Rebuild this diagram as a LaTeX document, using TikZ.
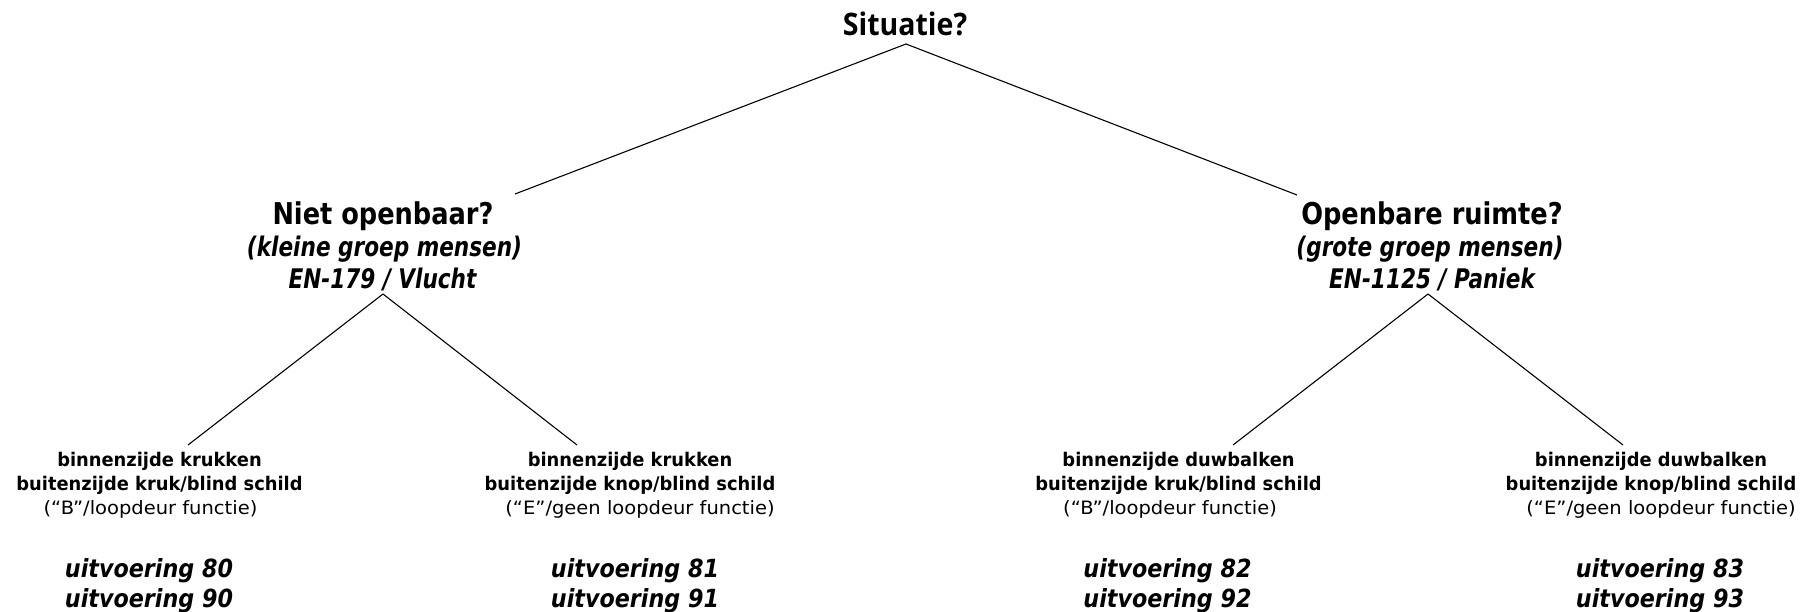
\documentclass[tikz,border=0pt]{standalone}
\usepackage{fontspec}
\setmainfont{DejaVu Sans}
\newfontfamily\fTitle[FakeStretch=0.92]{Open Sans}
\newfontfamily\fMid[FakeStretch=0.855]{DejaVu Sans}
\newfontfamily\fMidIt[FakeStretch=0.8]{DejaVu Sans}
\newfontfamily\fLeaf[FakeStretch=0.95]{DejaVu Sans}
\newfontfamily\fLeafR[FakeStretch=1.06]{DejaVu Sans}
\newfontfamily\fUitv[FakeStretch=0.89]{DejaVu Sans}
\begin{document}
\begin{tikzpicture}[x=1pt,y=-1pt,
  txt/.style={inner sep=0pt,outer sep=0pt,anchor=base},
  ttl/.style={txt,font=\fTitle\fontsize{31}{31}\selectfont\bfseries},
  midb/.style={txt,font=\fMid\fontsize{30}{30}\selectfont\bfseries},
  midi/.style={txt,font=\fMidIt\fontsize{27}{27}\selectfont\bfseries\itshape},
  leafb/.style={txt,font=\fLeaf\fontsize{18.8}{18.8}\selectfont\bfseries},
  leafr/.style={txt,font=\fLeafR\fontsize{18.4}{18.4}\selectfont},
  uitv/.style={txt,font=\fUitv\fontsize{25}{25}\selectfont\bfseries\itshape},
  conn/.style={draw=black,line width=1.1pt}]
\useasboundingbox (0,0) rectangle (1803,612);
% title
\node[ttl] (root) at (905,36) {Situatie?};
% left mid
\node[midb] (lm1) at (383,225) {Niet openbaar?};
\node[midi] (lm2) at (384.5,257) {(kleine groep mensen)};
\node[midi] (lm3) at (382.5,288) {EN-179 / Vlucht};
% right mid
\node[midb] (rm1) at (1432,225) {Openbare ruimte?};
\node[midi] (rm2) at (1430,257) {(grote groep mensen)};
\node[midi] (rm3) at (1432,288) {EN-1125 / Paniek};
% leaf 1
\node[leafb] (a1) at (159.5,466) {binnenzijde krukken};
\node[leafb] (a2) at (159.5,490) {buitenzijde kruk/blind schild};
\node[leafr] (a3) at (150.5,514) {(“B”/loopdeur functie)};
\node[uitv] (a4) at (149,577) {uitvoering 80};
\node[uitv] (a5) at (149,607) {uitvoering 90};
% leaf 2
\node[leafb] (b1) at (630,466) {binnenzijde krukken};
\node[leafb] (b2) at (630,490) {buitenzijde knop/blind schild};
\node[leafr] (b3) at (640,514) {(“E”/geen loopdeur functie)};
\node[uitv] (b4) at (635,577) {uitvoering 81};
\node[uitv] (b5) at (635,607) {uitvoering 91};
% leaf 3
\node[leafb] (c1) at (1178.5,466) {binnenzijde duwbalken};
\node[leafb] (c2) at (1178.5,490) {buitenzijde kruk/blind schild};
\node[leafr] (c3) at (1170,514) {(“B”/loopdeur functie)};
\node[uitv] (c4) at (1167.5,577) {uitvoering 82};
\node[uitv] (c5) at (1167.5,607) {uitvoering 92};
% leaf 4
\node[leafb] (d1) at (1651,466) {binnenzijde duwbalken};
\node[leafb] (d2) at (1651,490) {buitenzijde knop/blind schild};
\node[leafr] (d3) at (1661,514) {(“E”/geen loopdeur functie)};
\node[uitv] (d4) at (1660,577) {uitvoering 83};
\node[uitv] (d5) at (1660,607) {uitvoering 93};
% connector end points
\coordinate (rootB) at (906,44);
\coordinate (lmT) at (515,194);
\coordinate (rmT) at (1297,195);
\coordinate (lmB) at (383,294);
\coordinate (rmB) at (1428,294);
\coordinate (aT) at (188,445);
\coordinate (bT) at (577,445);
\coordinate (cT) at (1233,445);
\coordinate (dT) at (1623,445);
\draw[conn] (rootB) -- (lmT);
\draw[conn] (rootB) -- (rmT);
\draw[conn] (lmB) -- (aT);
\draw[conn] (lmB) -- (bT);
\draw[conn] (rmB) -- (cT);
\draw[conn] (rmB) -- (dT);
\end{tikzpicture}
\end{document}
